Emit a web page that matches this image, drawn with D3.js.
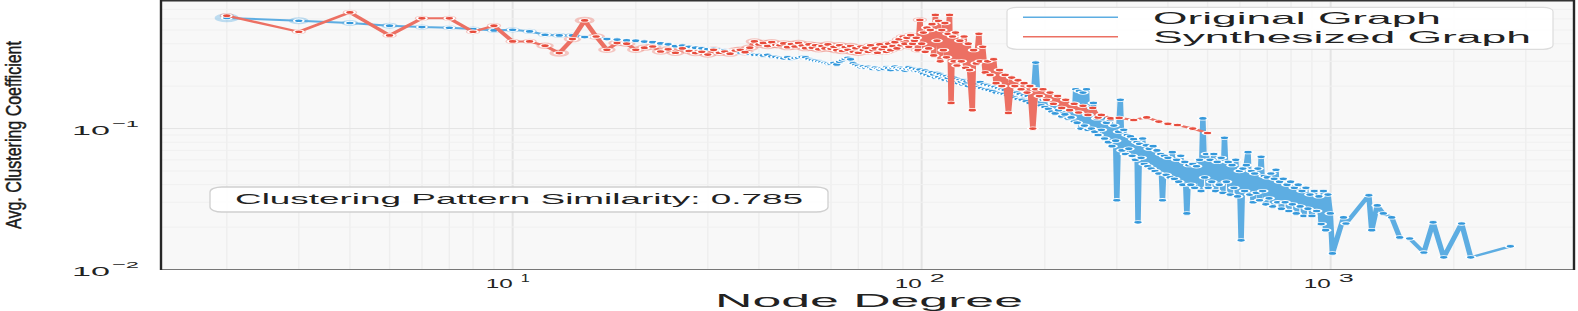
<!DOCTYPE html>
<html>
<head>
<meta charset="utf-8">
<script src="https://cdn.jsdelivr.net/npm/d3@7"></script>
<style>
body { margin: 0; background: #fff; }
svg { display: block; font-family: "Liberation Sans", Arial, Helvetica, sans-serif; }
</style>
</head>
<body>
<div id="chart"></div>
<script>

// node degree -> average clustering coefficient, original graph
var originalPoints = [
    [2,.609],[3,.582],[4,.561],[5,.537],[6,.525],[7,.519],[8,.508],[9,.497],[10,.502],[11,.489],
    [12,.463],[13,.458],[14,.458],[15,.446],[16,.446],[17,.431],[18,.428],[19,.422],[20,.420],[21,.414],
    [22,.410],[23,.402],[24,.396],[25,.384],[26,.388],[27,.380],[28,.375],[29,.371],[30,.366],[31,.368],
    [32,.362],[33,.360],[34,.355],[35,.352],[36,.347],[37,.345],[38,.339],[39,.334],[40,.333],[41,.330],
    [42,.334],[43,.325],[44,.322],[45,.318],[46,.315],[47,.320],[48,.312],[49,.316],[50,.318],[51,.322],
    [52,.320],[53,.312],[54,.306],[55,.303],[56,.300],[57,.296],[58,.293],[59,.290],[60,.288],[61,.292],
    [62,.285],[63,.298],[64,.305],[65,.312],[66,.318],[67,.310],[68,.290],[69,.283],[70,.278],[71,.272],
    [72,.276],[73,.270],[74,.274],[75,.268],[76,.265],[77,.271],[78,.266],[79,.262],[80,.268],[81,.265],
    [82,.272],[83,.268],[84,.260],[85,.270],[86,.275],[87,.268],[88,.262],[89,.270],[90,.265],[91,.258],
    [92,.266],[93,.272],[94,.262],[95,.268],[96,.258],[97,.264],[98,.255],[99,.262],[100,.250],
    [101,.245],[102,.258],[103,.240],[104,.252],[105,.236],[106,.250],[107,.242],[108,.230],[109,.248],[110,.232],
    [111,.244],[112,.226],[113,.238],[114,.222],[115,.236],[116,.228],[117,.218],[118,.234],[119,.220],[120,.230],
    [121,.214],[122,.226],[123,.210],[124,.222],[125,.215],[126,.205],[127,.220],[128,.208],[129,.216],[130,.200],
    [132,.218],[133,.204],[134,.212],[135,.196],[136,.210],[138,.198],[139,.214],[140,.194],[142,.206],[143,.190],
    [145,.204],[146,.188],[148,.200],[149,.184],[151,.198],[152,.180],[154,.194],[156,.178],[157,.190],[159,.176],
    [160,.188],[162,.172],[164,.186],[165,.170],[167,.182],[169,.166],[171,.180],[172,.162],[174,.176],[176,.160],
    [178,.172],[180,.156],[182,.170],[184,.152],[186,.166],[188,.185],[190,.294],[192,.180],[194,.168],[196,.146],
    [198,.160],[200,.142],[202,.165],[204,.138],[206,.158],[208,.132],[210,.152],[212,.128],[214,.160],[216,.135],
    [218,.148],[220,.122],[222,.150],[224,.126],[226,.142],[228,.118],[230,.145],[232,.120],[234,.138],[236,.112],
    [238,.190],[240,.110],[243,.185],[245,.100],[248,.180],[250,.105],[253,.190],[255,.098],[258,.130],[260,.100],
    [263,.152],[265,.095],[268,.118],[270,.090],[272,.125],[275,.098],[278,.118],[280,.085],[283,.110],[286,.080],
    [289,.115],[292,.075],[295,.105],[298,.082],[300,.031],[303,.095],[306,.160],[309,.070],[312,.098],[315,.066],
    [318,.090],[321,.072],[324,.088],[327,.064],[330,.084],[333,.060],[336,.080],[338,.0216],[341,.078],[344,.062],
    [347,.085],[350,.056],[354,.076],[357,.054],[360,.072],[364,.052],[368,.075],[372,.050],[376,.070],[380,.048],
    [384,.066],[388,.031],[392,.064],[396,.047],[400,.062],[405,.045],[410,.068],[415,.044],[420,.060],[425,.042],
    [430,.064],[435,.040],[440,.058],[445,.025],[450,.055],[455,.040],[460,.056],[465,.038],[470,.054],[478,.060],
    [482,.036],[487,.118],[492,.045],[497,.066],[502,.038],[507,.060],[512,.042],[518,.066],[523,.036],[528,.058],
    [534,.040],[540,.062],[545,.035],[550,.086],[556,.042],[562,.058],[568,.034],[574,.055],[580,.038],[586,.060],
    [592,.033],[598,.050],[604,.0161],[610,.052],[616,.036],[622,.055],[628,.068],[634,.034],[640,.050],[646,.030],
    [652,.048],[658,.035],[664,.052],[670,.031],[676,.063],[682,.036],[688,.046],[694,.029],[700,.045],[707,.032],
    [714,.048],[721,.028],[728,.044],[735,.051],[742,.030],[750,.042],[758,.027],[766,.044],[774,.030],[782,.040],
    [790,.026],[798,.042],[806,.029],[815,.038],[824,.025],[833,.040],[842,.028],[851,.036],[860,.024],[870,.038],
    [880,.027],[890,.034],[900,.024],[912,.036],[924,.026],[936,.033],[948,.021],[960,.036],[972,.019],[985,.034],
    [998,.025],[1010,.013],[1075,.0234],[1090,.0212],[1240,.0336],[1260,.019],[1300,.0285],[1345,.025],[1410,.0234],
    [1475,.0169],[1560,.0166],[1690,.0132],[1780,.0216],[1890,.0122],[2090,.0212],[2200,.0122],[2750,.0146]
];

// node degree -> average clustering coefficient, synthesized graph
var synthPoints = [
    [2,.632],[3,.486],[4,.667],[5,.458],[6,.605],[7,.605],[8,.486],[9,.537],[10,.415],[11,.415],
    [12,.387],[13,.343],[14,.431],[15,.585],[16,.450],[17,.362],[18,.404],[19,.400],[20,.362],[21,.375],
    [22,.382],[23,.352],[24,.365],[25,.345],[26,.370],[27,.355],[28,.343],[29,.350],[30,.335],[31,.362],
    [32,.345],[33,.352],[34,.340],[35,.358],[36,.362],[37,.348],[38,.375],[39,.415],[40,.395],[41,.405],
    [42,.385],[43,.410],[44,.392],[45,.390],[46,.402],[47,.378],[48,.398],[49,.382],[50,.405],[51,.388],
    [52,.372],[53,.395],[54,.375],[55,.390],[56,.365],[57,.385],[58,.370],[59,.395],[60,.368],[61,.380],
    [62,.360],[63,.390],[64,.355],[65,.378],[66,.362],[67,.385],[68,.350],[69,.372],[70,.345],[71,.382],
    [72,.360],[73,.375],[74,.350],[75,.390],[76,.360],[77,.370],[78,.345],[79,.395],[80,.365],[81,.380],
    [82,.350],[83,.400],[84,.360],[85,.385],[86,.410],[87,.370],[88,.430],[89,.390],[90,.450],[91,.400],
    [92,.440],[93,.380],[94,.460],[95,.400],[96,.420],[97,.44],[98,.36],[99,.59],[100,.40],[101,.48],
    [102,.35],[103,.52],[104,.37],[105,.50],[106,.55],[107,.33],[108,.64],[109,.42],[110,.58],[111,.30],
    [112,.50],[113,.36],[114,.56],[115,.32],[116,.47],[117,.64],[118,.152],[119,.45],[120,.30],[121,.48],
    [122,.28],[124,.42],[125,.30],[127,.45],[128,.27],[130,.40],[131,.26],[133,.135],[134,.36],[136,.29],
    [138,.47],[139,.30],[141,.38],[143,.25],[145,.30],[147,.24],[150,.31],[152,.21],[155,.26],[157,.20],
    [160,.24],[163,.129],[166,.23],[169,.20],[172,.22],[175,.19],[178,.21],[181,.18],[184,.20],[187,.10],
    [190,.19],[194,.17],[198,.19],[202,.16],[206,.18],[210,.15],[215,.17],[220,.14],[225,.16],[230,.135],
    [236,.15],[242,.13],[248,.145],[255,.125],[262,.14],[270,.12],[275,.125],[290,.118],[304,.119],[330,.115],
    [355,.12],[380,.112],[400,.108],[422,.106],[460,.10],[500,.093]
];

var seriesNames = ["Original Graph", "Synthesized Graph"];
var seriesColors = ["#5dade2", "#ec7063"];
var markerColors = ["#3498db", "#e74c3c"];
var xTickValues = [10, 100, 1000];
var xTickExp = ["1", "2", "3"];
var yTickValues = [0.1, 0.01];
var yTickExp = ["\u22121", "\u22122"];
var similarity = "0.785";

var width = 1578, height = 311;
var S = 2.75; // the figure is stretched sideways, marks are drawn squeezed and scaled back
var plot = {left: 161, right: 1574, top: 0.5, bottom: 269.5};

var x = d3.scaleLog().domain([1.381, 3935]).range([plot.left, plot.right]);
var y = d3.scaleLog().domain([0.01, 0.81]).range([plot.bottom, plot.top]);

var svg = d3.select("#chart").append("svg")
    .attr("width", width)
    .attr("height", height);

// text squeezed/stretched to a measured width
function fitText(parent, str, x0, x1, baseline, size) {
    return parent.append("text")
        .attr("x", x0)
        .attr("y", baseline)
        .attr("font-size", size)
        .attr("textLength", x1 - x0)
        .attr("lengthAdjust", "spacingAndGlyphs")
        .attr("fill", "#222")
        .text(str);
}

// plot background + grid
svg.append("rect")
    .attr("x", plot.left).attr("y", plot.top)
    .attr("width", plot.right - plot.left).attr("height", plot.bottom - plot.top)
    .attr("fill", "#f8f8f8");

var grid = svg.append("g");
x.ticks().forEach(function (t) {
    var major = xTickValues.indexOf(t) >= 0;
    grid.append("line")
        .attr("x1", x(t)).attr("x2", x(t))
        .attr("y1", plot.top).attr("y2", plot.bottom)
        .attr("stroke", major ? "#e4e4e4" : "#eeeeee")
        .attr("stroke-width", major ? 2 : 1.4);
});
y.ticks().forEach(function (t) {
    var major = yTickValues.indexOf(t) >= 0;
    grid.append("line")
        .attr("x1", plot.left).attr("x2", plot.right)
        .attr("y1", y(t)).attr("y2", y(t))
        .attr("stroke", major ? "#e4e4e4" : "#f0f0f0")
        .attr("stroke-width", 1);
});

// marks, drawn in squeezed x units
var marks = svg.append("g").attr("transform", "scale(" + S + ",1)");

var line = d3.line()
    .x(function (d) { return x(d[0]) / S; })
    .y(function (d) { return y(d[1]); });

function haloRadius(series, d) {
    if (series == 0) {
        if (d[0] == 2) return 4.4;
        if (d[0] == 3) return 3.6;
        if (d[0] <= 5) return 3.0;
        if (d[0] <= 14) return 2.6;
        return 0;
    }
    if (d[0] == 13 || d[0] == 15) return 3.6;
    if (d[0] >= 12 && d[0] <= 70) return 3.2;
    if (d[0] <= 100) return 2.6;
    return 0;
}

[originalPoints, synthPoints].forEach(function (pts, i) {
    marks.append("g").selectAll("circle")
        .data(pts.filter(function (d) { return haloRadius(i, d) > 0; }))
        .enter().append("circle")
        .attr("cx", function (d) { return x(d[0]) / S; })
        .attr("cy", function (d) { return y(d[1]); })
        .attr("r", function (d) { return haloRadius(i, d); })
        .attr("fill", seriesColors[i])
        .attr("opacity", 0.38);
});

[originalPoints, synthPoints].forEach(function (pts, i) {
    marks.append("path")
        .datum(pts)
        .attr("d", line)
        .attr("fill", "none")
        .attr("stroke", seriesColors[i])
        .attr("stroke-width", 2)
        .attr("stroke-linejoin", "round");

    marks.append("g").selectAll("circle")
        .data(pts)
        .enter().append("circle")
        .attr("cx", function (d) { return x(d[0]) / S; })
        .attr("cy", function (d) { return y(d[1]); })
        .attr("r", 1.75)
        .attr("fill", markerColors[i])
        .attr("stroke", "#fff")
        .attr("stroke-width", 0.8);
});

// frame
svg.append("line").attr("x1", plot.left).attr("x2", plot.right).attr("y1", 0.7).attr("y2", 0.7)
    .attr("stroke", "#333").attr("stroke-width", 1.4);
svg.append("line").attr("x1", plot.left).attr("x2", plot.right).attr("y1", plot.bottom).attr("y2", plot.bottom)
    .attr("stroke", "#777").attr("stroke-width", 1.2);
svg.append("line").attr("x1", plot.left).attr("x2", plot.left).attr("y1", 0).attr("y2", plot.bottom + 0.6)
    .attr("stroke", "#262626").attr("stroke-width", 2.4);
svg.append("line").attr("x1", plot.right).attr("x2", plot.right).attr("y1", 0).attr("y2", plot.bottom + 0.6)
    .attr("stroke", "#262626").attr("stroke-width", 2.4);

// tick labels (10 with superscript exponent)
var ticks = svg.append("g");
xTickValues.forEach(function (t, i) {
    var px = x(t);
    fitText(ticks, "10", px - 27, px, 287.5, 13.5);
    fitText(ticks, xTickExp[i], px + 8, px + (i == 0 ? 17 : 23), 281.5, 10);
});
yTickValues.forEach(function (t, i) {
    var py = y(t);
    fitText(ticks, "10", 72, 110, py + 6, 13.5);
    fitText(ticks, yTickExp[i], 112, 139, py - 1.5, 9.5);
});

// axis titles
fitText(svg, "Node Degree", 715, 1023, 306.5, 17.5);

// y title: condensed along its length by a scale, so its box stays inside the page
var yTitle = svg.append("text")
    .attr("text-anchor", "middle")
    .attr("font-size", 22)
    .attr("fill", "#1a1a1a")
    .attr("stroke", "#1a1a1a")
    .attr("stroke-width", 0.5)
    .text("Avg. Clustering Coefficient");
var titleLen = yTitle.node().getComputedTextLength();
yTitle.attr("transform", "translate(21," + ((plot.top + plot.bottom) / 2) + ") rotate(-90) scale(" + (188 / titleLen) + ",1)");

// similarity box
svg.append("rect")
    .attr("x", 210).attr("y", 187).attr("width", 618).attr("height", 25)
    .attr("rx", 12).attr("ry", 5)
    .attr("fill", "#fff").attr("fill-opacity", 0.9)
    .attr("stroke", "#d0d0d0").attr("stroke-width", 1.3);
fitText(svg, "Clustering Pattern Similarity: " + similarity, 235, 803, 203.5, 14);

// legend
var legend = svg.append("g");
legend.append("rect")
    .attr("x", 1007).attr("y", 7.3).attr("width", 546).attr("height", 42)
    .attr("rx", 10).attr("ry", 4)
    .attr("fill", "#fff").attr("fill-opacity", 0.9)
    .attr("stroke", "#dcdcdc").attr("stroke-width", 1.2);
var legendRows = [17.3, 36.7];
var legendTextEnd = [1441, 1531];
seriesNames.forEach(function (name, i) {
    legend.append("line")
        .attr("x1", 1023).attr("x2", 1118)
        .attr("y1", legendRows[i]).attr("y2", legendRows[i])
        .attr("stroke", seriesColors[i]).attr("stroke-width", 1.5);
    fitText(legend, name, 1153, legendTextEnd[i], legendRows[i] + 6.3, 16.5);
});

</script>
</body>
</html>
